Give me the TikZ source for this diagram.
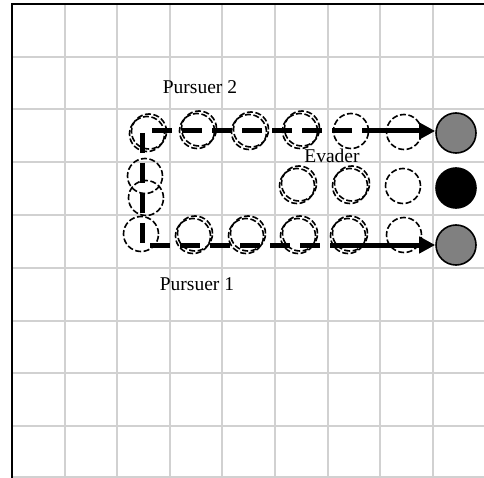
\documentclass[tikz,border=0pt]{standalone}
\usepackage{fontspec}
\setmainfont{Liberation Serif}
\usetikzlibrary{arrows.meta}
\begin{document}
\begin{tikzpicture}[x=1pt,y=-1pt,
  gridline/.style={draw=black!18,line width=2pt},
  border/.style={draw=black,line width=2.5pt},
  ghost/.style={circle,draw=black,line width=1.6pt,dash pattern=on 6pt off 2.5pt,minimum size=35pt,inner sep=0pt},
  agentp/.style={circle,draw=black,line width=1.6pt,fill=black!50,minimum size=40pt,inner sep=0pt},
  agente/.style={circle,draw=black,line width=1.6pt,fill=black,minimum size=40pt,inner sep=0pt},
  trail/.style={line width=5pt,dash pattern=on 20pt off 10pt},
  move/.style={line width=5pt,-{Triangle[length=16pt,width=16pt]}},
  lbl/.style={font=\fontsize{19.5}{21}\selectfont,inner sep=0pt}]
\useasboundingbox (0,0) rectangle (484,478);
\fill[white] (0,0) rectangle (484,478);
% grid
\foreach \k in {1,...,8} {
  \draw[gridline] ({12+52.6*\k},4) -- ({12+52.6*\k},478);
  \draw[gridline] (12,{4+52.75*\k}) -- (484,{4+52.75*\k});
}
\draw[gridline] (12,477) -- (484,477);
\draw[border] (484,4) -- (12,4) -- (12,478);
% ghost positions (double = two offset circles)
\foreach \x/\y in {147/134,197/131,249/132,300/131,297/186,350/186,193/236,246/236,298/236,348/236} {
  \node[ghost] at (\x,\y) {};
  \node[ghost] at (\x+2,\y-2.5) {};
}
\foreach \x/\y in {351/131,404/132,403/186,145/176,146/198,141/234,404/235} {
  \node[ghost] at (\x,\y) {};
}
% agents
\node[agentp] (p2) at (456,133) {};
\node[agente] (ev) at (456,188) {};
\node[agentp] (p1) at (456,245) {};
% labels
\node[lbl] (l2) at (200,87) {Pursuer 2};
\node[lbl] (le) at (332,156) {Evader};
\node[lbl] (l1) at (197,284) {Pursuer 1};
% paths
\coordinate (a2) at (152,131);
\coordinate (b2) at (372,131);
\draw[trail] (a2) -- (b2);
\draw[move] (b2) -- (b2 -| p2.west);
\coordinate (a1) at (142,133);
\coordinate (c1) at (142,245);
\coordinate (b1) at (340,245);
\draw[trail] (a1) -- (c1) -- (b1);
\draw[move] (b1) -- (b1 -| p1.west);
\end{tikzpicture}
\end{document}
